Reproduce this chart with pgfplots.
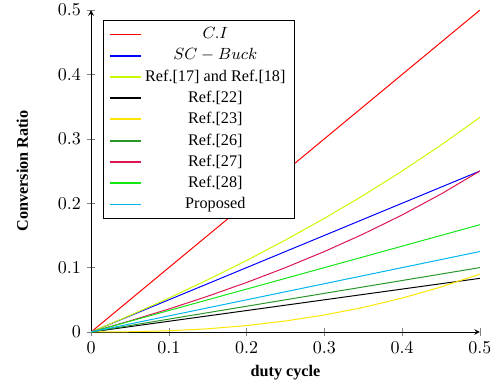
\documentclass[border=0pt]{standalone}
\usepackage{pgfplots}
\pgfplotsset{compat=1.18}
\usepackage{fontspec}
\setmainfont{Liberation Serif}
\definecolor{cRed}{RGB}{255,0,0}
\definecolor{cBlue}{RGB}{0,0,255}
\definecolor{cLime}{RGB}{200,250,0}
\definecolor{cYellow}{RGB}{255,230,0}
\definecolor{cDkGreen}{RGB}{40,150,40}
\definecolor{cCrimson}{RGB}{220,20,80}
\definecolor{cGreen}{RGB}{20,230,20}
\definecolor{cCyan}{RGB}{0,180,240}
\begin{document}
\begin{tikzpicture}
\path[use as bounding box] (-50.6pt,-31.1pt) rectangle (221.7pt,184.5pt);
\begin{axis}[
  at={(0pt,0pt)}, anchor=south west,
  scale only axis,
  width=216.1pt, height=178.9pt,
  axis lines=left,
  xmin=0, xmax=0.5, ymin=0, ymax=0.5,
  xtick={0,0.1,0.2,0.3,0.4,0.5},
  ytick={0,0.1,0.2,0.3,0.4,0.5},
  xlabel={duty cycle},
  ylabel={Conversion Ratio},
  xlabel style={font=\small\bfseries, at={(axis description cs:0.5,-0.127)}, anchor=center},
  ylabel style={font=\small\bfseries, at={(axis description cs:-0.177,0.5)}, anchor=center},
  legend style={at={(0.031,0.969)}, anchor=north west, font=\small, cells={anchor=center}},
  legend cell align=center,
  legend image post style={line width=1.1pt},
  every axis plot/.append style={line width=0.55pt},
]
\addplot[cRed] coordinates {(0,0) (0.5,0.5)};
\addlegendentry{$C.I$}
\addplot[cBlue] coordinates {(0,0) (0.5,0.25)};
\addlegendentry{$SC-Buck$}
\addplot[cLime] coordinates {(0,0) (0.05,0.02564) (0.1,0.05263) (0.15,0.08108) (0.2,0.11111) (0.25,0.14286) (0.3,0.17647) (0.35,0.21212) (0.4,0.25) (0.45,0.29032) (0.5,0.33333)};
\addlegendentry{Ref.[17] and Ref.[18]}
\addplot[black] coordinates {(0,0) (0.5,0.08333)};
\addlegendentry{Ref.[22]}
\addplot[cYellow] coordinates {(0,0) (0.05,0.0004) (0.1,0.0019) (0.15,0.0050) (0.2,0.0100) (0.25,0.0171) (0.3,0.0264) (0.35,0.0382) (0.4,0.0527) (0.45,0.0699) (0.5,0.09)};
\addlegendentry{Ref.[23]}
\addplot[cDkGreen] coordinates {(0,0) (0.5,0.1)};
\addlegendentry{Ref.[26]}
\addplot[cCrimson] coordinates {(0,0) (0.05,0.01724) (0.1,0.03571) (0.15,0.05556) (0.2,0.07692) (0.25,0.1) (0.3,0.125) (0.35,0.15217) (0.4,0.18182) (0.45,0.21429) (0.5,0.25)};
\addlegendentry{Ref.[27]}
\addplot[cGreen] coordinates {(0,0) (0.5,0.16667)};
\addlegendentry{Ref.[28]}
\addplot[cCyan] coordinates {(0,0) (0.5,0.125)};
\addlegendentry{Proposed}
\end{axis}
\end{tikzpicture}
\end{document}
